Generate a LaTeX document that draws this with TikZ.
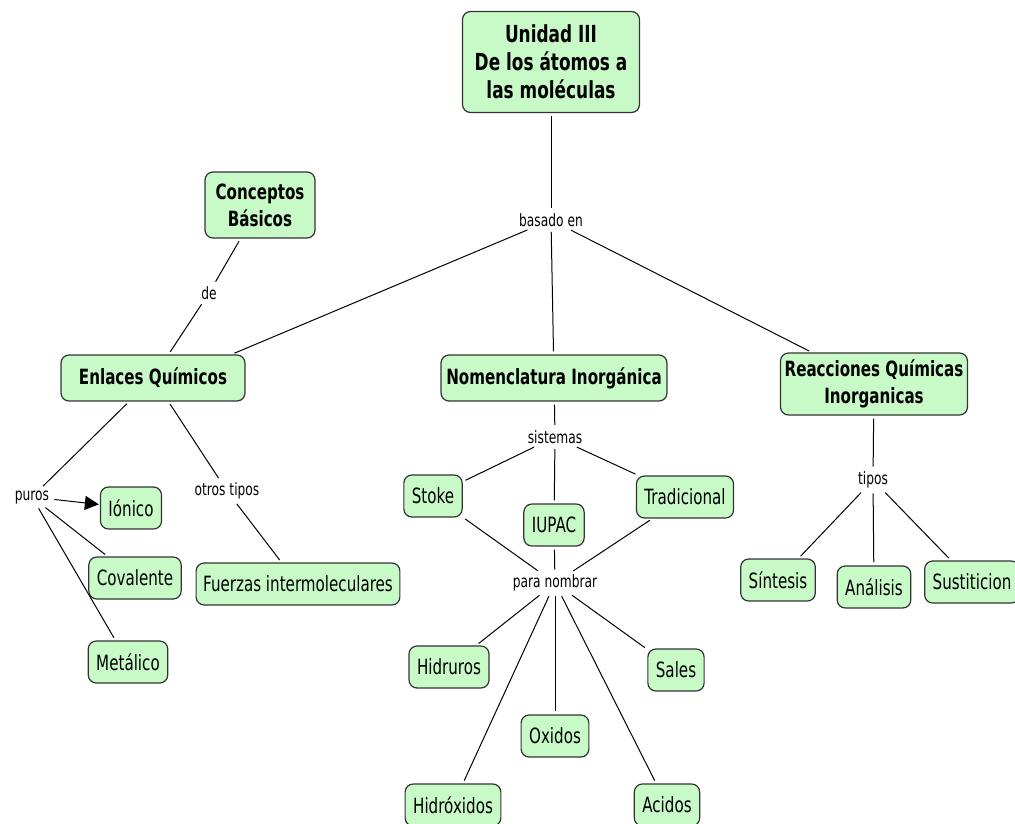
\documentclass[tikz,border=0pt]{standalone}
\usepackage{fontspec}
\setmainfont[FakeStretch=0.72]{DejaVu Sans}
\usetikzlibrary{arrows.meta}
\definecolor{conceptgreen}{RGB}{200,250,200}
\begin{document}
\begin{tikzpicture}[x=1pt,y=-1pt,
concept/.style={draw=black!80,line width=1.2pt,fill=conceptgreen,rounded corners=8pt,align=center,inner xsep=8pt,inner ysep=0pt,minimum height=42pt,font=\fontsize{21}{27}\selectfont},
bigconcept/.style={concept,inner xsep=3pt,font=\fontsize{21}{27}\selectfont\bfseries},
link/.style={inner sep=2pt,font=\fontsize{17}{20}\selectfont},
conn/.style={line width=1pt,shorten <=3pt,shorten >=3pt}]
\useasboundingbox (0,0) rectangle (1015,823);
\node[bigconcept,minimum width=177pt,minimum height=101pt,font=\fontsize{23.5}{28}\selectfont\bfseries] (unidad) at (551,62) {Unidad III\\De los átomos a\\las moléculas};
\node[bigconcept,minimum width=110pt,minimum height=66pt] (conceptos) at (260,205) {Conceptos\\Básicos};
\node[bigconcept,minimum width=184pt,minimum height=46pt] (enlaces) at (153,378) {Enlaces Químicos};
\node[bigconcept,minimum width=226pt,minimum height=46pt] (nomenclatura) at (554,378) {Nomenclatura Inorgánica};
\node[bigconcept,minimum width=187pt,minimum height=62pt] (reacciones) at (874,384) {Reacciones Químicas\\Inorganicas};
\node[link] (basado) at (551,220) {basado en};
\node[link] (de) at (209,293) {de};
\node[link] (puros) at (32,497) {puros};
\node[link] (otros) at (227,491) {otros tipos};
\node[link] (sistemas) at (555,437) {sistemas};
\node[link] (nombrar) at (555,583) {para nombrar};
\node[link] (tipos) at (873,480) {tipos};
\node[concept] (ionico) at (131,508) {Iónico};
\node[concept] (covalente) at (135,578) {Covalente};
\node[concept] (metalico) at (128,662) {Metálico};
\node[concept,inner xsep=7pt] (fuerzas) at (298,584) {Fuerzas intermoleculares};
\node[concept] (stoke) at (433,496) {Stoke};
\node[concept] (iupac) at (554,525) {IUPAC};
\node[concept] (tradicional) at (685,497) {Tradicional};
\node[concept] (hidruros) at (449,667) {Hidruros};
\node[concept] (sales) at (676,670) {Sales};
\node[concept] (oxidos) at (555,736) {Oxidos};
\node[concept] (hidroxidos) at (453,805) {Hidróxidos};
\node[concept] (acidos) at (667,805) {Acidos};
\node[concept] (sintesis) at (778,580) {Síntesis};
\node[concept] (analisis) at (874,587) {Análisis};
\node[concept] (sustiticion) at (972,582) {Sustiticion};
\draw[conn] (unidad) -- (basado);
\draw[conn] (basado) -- ([xshift=-14pt]enlaces.north east);
\draw[conn] (basado) -- (nomenclatura);
\draw[conn] (basado) -- (reacciones);
\draw[conn] (conceptos) -- (de);
\draw[conn] (de) -- (enlaces);
\draw[conn] (enlaces) -- (puros);
\draw[conn,shorten >=1pt,-{Triangle[length=14pt,width=14pt]}] (puros) -- (ionico);
\draw[conn] (puros) -- (covalente);
\draw[conn] (puros) -- (metalico);
\draw[conn] (enlaces) -- (otros);
\draw[conn] (otros) -- (fuerzas);
\draw[conn] (nomenclatura) -- (sistemas);
\draw[conn] (sistemas) -- (stoke);
\draw[conn] (sistemas) -- (iupac);
\draw[conn] (sistemas) -- (tradicional);
\draw[conn] (stoke) -- (nombrar);
\draw[conn] (iupac) -- (nombrar);
\draw[conn] (tradicional) -- (nombrar);
\draw[conn] (nombrar) -- (hidruros);
\draw[conn] (nombrar) -- (hidroxidos);
\draw[conn] (nombrar) -- (oxidos);
\draw[conn] (nombrar) -- (acidos);
\draw[conn] (nombrar) -- (sales);
\draw[conn] (reacciones) -- (tipos);
\draw[conn] (tipos) -- (sintesis);
\draw[conn] (tipos) -- (analisis);
\draw[conn] (tipos) -- (sustiticion);
\end{tikzpicture}
\end{document}
